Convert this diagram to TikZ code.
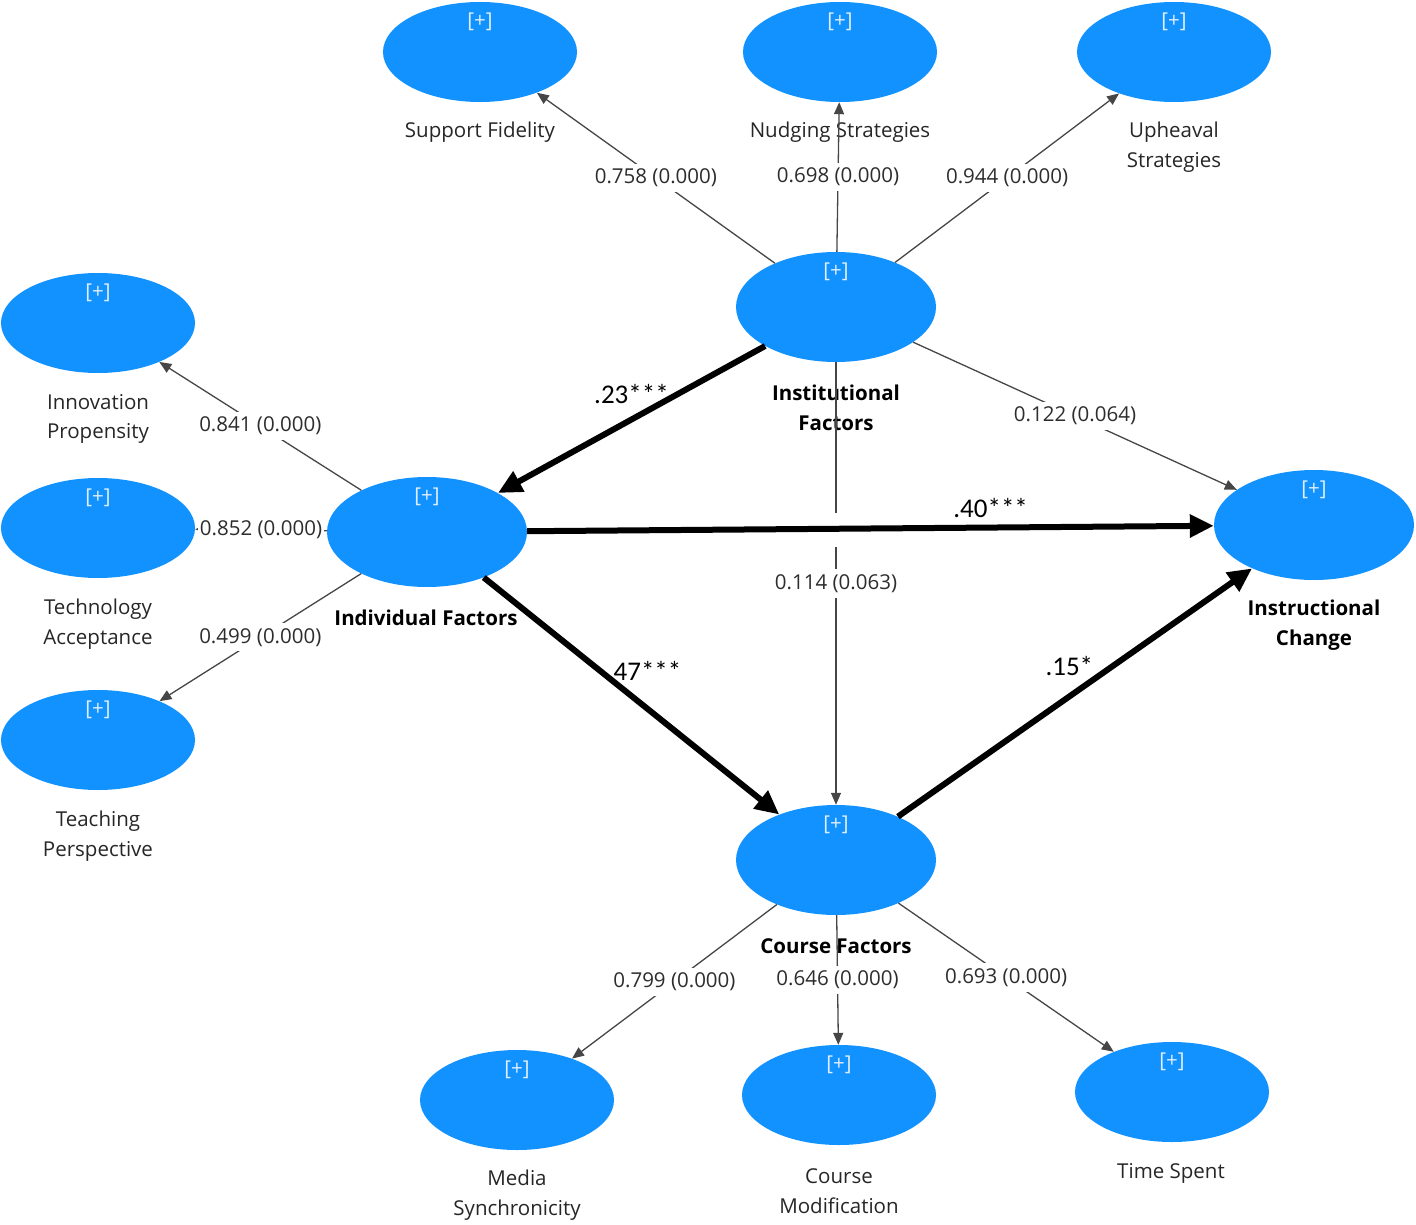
\documentclass[tikz,border=0pt]{standalone}
\usepackage{fontspec}
\setmainfont{Open Sans}
\newfontfamily\cali{Carlito}
\usetikzlibrary{arrows.meta,shapes.geometric}
\definecolor{lvblue}{RGB}{18,146,255}
\definecolor{plusc}{RGB}{225,238,255}
\definecolor{loadtxt}{RGB}{45,45,45}
\definecolor{thinc}{RGB}{70,70,70}
\newcommand\plusmark{[+]}
\begin{document}
\begin{tikzpicture}[x=1pt,y=-1pt,
  plustxt/.style={text=plusc, font=\fontsize{20.5}{22}\selectfont},
  lv/.style={ellipse, fill=lvblue, minimum width=194pt, minimum height=100pt, inner sep=0pt,
    label={[plustxt, label distance=-32pt]90:\plusmark}},
  lvbig/.style={lv, minimum width=200pt, minimum height=110pt},
  lvname/.style={font=\fontsize{20.5}{29.5}\selectfont, align=center, text=black!85},
  bname/.style={font=\fontsize{20.5}{29.5}\selectfont\bfseries, align=center, text=black},
  load/.style={fill=white, inner xsep=1.5pt, inner ysep=5pt, font=\fontsize{20.5}{24}\selectfont, text=loadtxt},
  thin/.style={draw=thinc, line width=1.3pt, -{Triangle[length=12pt,width=10pt]}},
  thick/.style={draw=black, line width=6pt, -{Triangle[length=24pt,width=22pt]}},
  coef/.style={font=\cali\fontsize{27}{29}\selectfont, text=black}]
\useasboundingbox (0,0) rectangle (1416,1225);

% latent variables
\node[lv] (sf) at (480,52) {};
\node[lv] (ns) at (840,52) {};
\node[lv] (us) at (1174,52) {};
\node[lvbig] (inst) at (836,307) {};
\node[lv] (ip) at (98,323) {};
\node[lv] (ta) at (98,528) {};
\node[lv] (tp) at (98,740) {};
\node[lvbig] (ind) at (427,532) {};
\node[lvbig] (ic) at (1314,525) {};
\node[lvbig] (cf) at (836,860) {};
\node[lv] (ms) at (517,1100) {};
\node[lv] (cm) at (839,1095) {};
\node[lv] (ts) at (1172,1092) {};

% names
\node[lvname] (sf-t) at (480,132) {Support Fidelity};
\node[lvname] (ns-t) at (840,132) {Nudging Strategies};
\node[lvname] (us-t) at (1174,147) {Upheaval\\Strategies};
\node[lvname] (ip-t) at (98,419) {Innovation\\Propensity};
\node[lvname] (ta-t) at (98,624) {Technology\\Acceptance};
\node[lvname] (tp-t) at (98,836) {Teaching\\Perspective};
\node[bname] (inst-t) at (836,408) {Institutional\\Factors};
\node[bname] (ind-t) at (426,618) {Individual Factors};
\node[bname] (ic-t) at (1314,625) {Instructional\\Change};
\node[bname] (cf-t) at (836,946) {Course Factors};
\node[lvname] (ms-t) at (517,1195) {Media\\Synchronicity};
\node[lvname] (cm-t) at (839,1191) {Course\\Modification};
\node[lvname] (ts-t) at (1171,1173) {Time Spent};

% outer loadings
\draw[thin] (inst) -- node[load] (l1) {0.758 (0.000)} (sf);
\draw[thin] (inst) -- node[load] (l2) {0.698 (0.000)} (ns);
\draw[thin] (inst) -- node[load] (l3) {0.944 (0.000)} (us);
\draw[thin] (ind) -- node[load] (l4) {0.841 (0.000)} (ip);
\draw[thin] (ind) -- node[load] (l5) {0.852 (0.000)} (ta);
\draw[thin] (ind) -- node[load] (l6) {0.499 (0.000)} (tp);
\draw[thin] (cf) -- node[load] (l7) {0.799 (0.000)} (ms);
\draw[thin] (cf) -- node[load] (l8) {0.646 (0.000)} (cm);
\draw[thin] (cf) -- node[load] (l9) {0.693 (0.000)} (ts);

% structural thin paths
\draw[thin] (inst) -- node[load] (l10) {0.122 (0.064)} (ic);
\draw[thin] (inst) -- node[load] (l11) {0.114 (0.063)} (cf);
\fill[white] (831,513) rectangle (841,547);

% structural thick paths
\draw[thick] (inst) -- node[coef, pos=.5, yshift=25pt] (c1) {.23***} (ind);
\draw[thick] (ind) -- node[coef, pos=.675, yshift=20pt] (c2) {.40***} (ic);
\draw[thick] (ind) -- node[coef, pos=.5, xshift=16pt, yshift=25pt] (c3) {47***} (cf);
\draw[thick] (cf) -- node[coef, pos=.484, yshift=30pt] (c4) {.15*} (ic);
\end{tikzpicture}
\end{document}
